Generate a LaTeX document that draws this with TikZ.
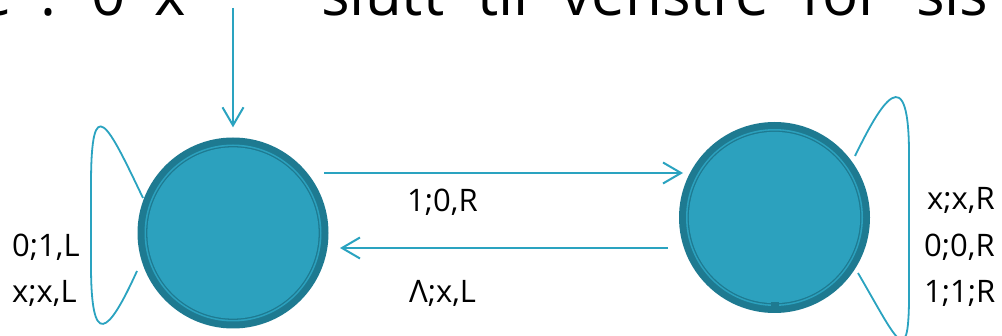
\documentclass[tikz,border=0pt]{standalone}
\usepackage{fontspec}
\setmainfont{Open Sans}
\usetikzlibrary{arrows.meta,calc}
\definecolor{fillc}{RGB}{44,161,190}
\definecolor{ringc}{RGB}{30,122,145}
\definecolor{linec}{RGB}{42,163,192}
\begin{document}
\begin{tikzpicture}[x=1pt,y=-1pt,
  state/.style={circle, minimum size=191pt, inner sep=0pt, fill=ringc,
    path picture={
      \fill[fillc] (path picture bounding box.center) circle (88.5pt);
      \fill[ringc] (path picture bounding box.center) circle (86.9pt);
      \fill[fillc] (path picture bounding box.center) circle (85.6pt);
    }},
  arr/.style={draw=linec, line width=2pt,
    -{Straight Barb[length=18pt,width=21pt,line width=2pt]}},
  selfloop/.style={draw=linec, line width=1.8pt},
  lbl/.style={font=\fontsize{31}{31}\selectfont, inner sep=0pt, anchor=base west, text=black},
  title/.style={font=\fontsize{60}{60}\selectfont, inner sep=0pt, text=black}]
\useasboundingbox (0,0) rectangle (1002,336);
\clip (0,0) rectangle (1002,336);
\fill[white] (0,0) rectangle (1002,336);

% cut-off title line
\node[title, anchor=base east] (t1) at (186,16) {\spaceskip=29pt e : 0 x};
\node[title, anchor=base west] (t2) at (321,16) {\spaceskip=33pt slutt til venstre for sis};

% states
\node[state] (L) at (233,233) {};
\node[state] (R) at (774.5,217.5) {};
\fill[ringc] ($(R.center)+(-4,84.5)$) rectangle ($(R.center)+(4,95)$);

% start arrow
\coordinate (s0) at (233,8);
\draw[arr, shorten >=10pt] (s0) -- (L);

% transitions
\draw[arr] ($(L.center)+(91,-60)$) -- ($(R.center)+(-91.5,-44.5)$);
\draw[arr] ($(R.center)+(-106.5,30.5)$) -- ($(L.center)+(107,15)$);

% self loops
\draw[selfloop] ($(L.center)+(-90,-35)$) .. controls (108,125) and (91,88) .. (91,185)
  -- (91,265) .. controls (91,350) and (108,335) .. ($(L.center)+(-96,38)$);
\draw[selfloop] ($(R.center)+(80.5,-61.5)$) .. controls (880,105) and (910,52) .. (909,160)
  -- (909,280) .. controls (910,375) and (900,345) .. ($(R.center)+(83.5,55.5)$);

% labels
\node[lbl] (l1) at (407,212) {1;0,R};
\node[lbl] (l2) at (409,303) {Λ;x,L};
\node[lbl] (l3) at (12,257) {0;1,L};
\node[lbl] (l4) at (12,303) {x;x,L};
\node[lbl] (l5) at (927,210) {x;x,R};
\node[lbl] (l6) at (924,257) {0;0,R};
\node[lbl] (l7) at (924,303) {1;1;R};
\end{tikzpicture}
\end{document}
